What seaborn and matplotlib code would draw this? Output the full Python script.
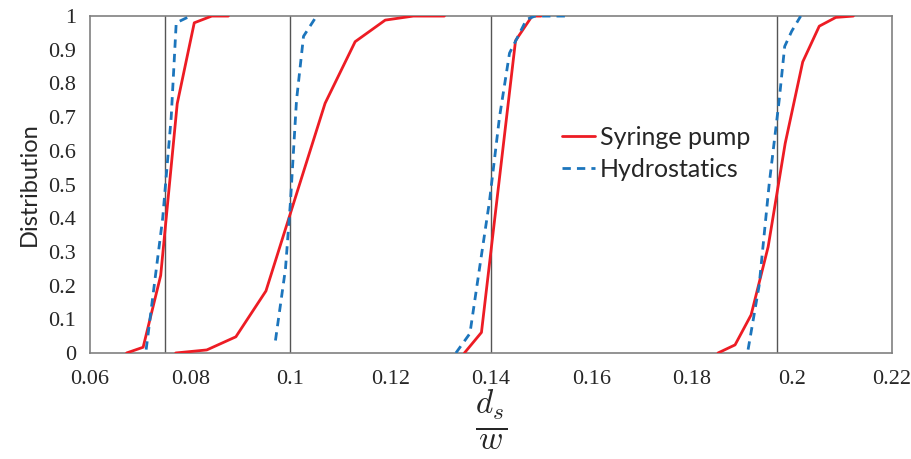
import numpy as np
import pandas as pd
import matplotlib
matplotlib.use("Agg")
import matplotlib.pyplot as plt
import seaborn as sns

# Cumulative distributions, four droplet sizes
pump_x = [
    [0.0673, 0.0706, 0.0741, 0.0774, 0.0808, 0.0843, 0.0876],
    [0.0771, 0.0833, 0.0891, 0.0951, 0.1069, 0.1129, 0.1189, 0.1245, 0.1307],
    [0.1347, 0.1381, 0.1449, 0.1482, 0.1500],
    [0.1853, 0.1887, 0.1919, 0.1953, 0.1987, 0.2022, 0.2055, 0.2088, 0.2123],
]
pump_y = [
    [0.0, 0.017, 0.23, 0.74, 0.98, 1.0, 1.0],
    [0.0, 0.009, 0.048, 0.184, 0.741, 0.924, 0.988, 1.0, 1.0],
    [0.0, 0.061, 0.927, 1.0, 1.0],
    [0.0, 0.024, 0.113, 0.315, 0.622, 0.864, 0.970, 0.996, 1.0],
]
hydro_x = [
    [0.0712, 0.0745, 0.0762, 0.0772, 0.0786, 0.0800],
    [0.0970, 0.0990, 0.1000, 0.1012, 0.1026, 0.1052],
    [0.1330, 0.1358, 0.1379, 0.1397, 0.1417, 0.1437, 0.1471, 0.1488, 0.1551],
    [0.1913, 0.1935, 0.1955, 0.1975, 0.1986, 0.2000, 0.2018],
]
hydro_y = [
    [0.01, 0.40, 0.70, 0.98, 0.99, 1.0],
    [0.037, 0.25, 0.45, 0.75, 0.94, 1.0],
    [0.0, 0.058, 0.27, 0.45, 0.70, 0.89, 0.99, 1.0, 1.0],
    [0.01, 0.20, 0.50, 0.75, 0.91, 0.955, 1.0],
]
target_sizes = [0.075, 0.1, 0.14, 0.197]
x_ticks = [0.06, 0.08, 0.1, 0.12, 0.14, 0.16, 0.18, 0.2, 0.22]
x_labels = ["0.06", "0.08", "0.1", "0.12", "0.14", "0.16", "0.18", "0.2", "0.22"]
y_ticks = [0, 0.1, 0.2, 0.3, 0.4, 0.5, 0.6, 0.7, 0.8, 0.9, 1]
y_labels = ["0", "0.1", "0.2", "0.3", "0.4", "0.5", "0.6", "0.7", "0.8", "0.9", "1"]

# Long table for seaborn
rows = []
for method, xs, ys in [("Syringe pump", pump_x, pump_y), ("Hydrostatics", hydro_x, hydro_y)]:
    for g, (gx, gy) in enumerate(zip(xs, ys)):
        for i, (a, b) in enumerate(zip(gx, gy)):
            rows.append({"x": a, "y": b, "method": method, "group": g, "order": i})
df = pd.DataFrame(rows)

sns.set_style("white")
plt.rcParams["mathtext.fontset"] = "cm"

fig = plt.figure(figsize=(9.12, 4.59), dpi=100)
ax = fig.add_axes([0.0987, 0.231, 0.8793, 0.734])

for xv in target_sizes:
    ax.axvline(xv, color="#555555", lw=1.0, zorder=1)

sns.lineplot(data=df, x="x", y="y", hue="method", style="method", units="group",
             estimator=None, sort=False, ax=ax,
             palette={"Syringe pump": "#ED1C24", "Hydrostatics": "#1C75BC"},
             dashes={"Syringe pump": "", "Hydrostatics": (3, 2.2)},
             linewidth=2, zorder=3)

ax.set_xlim(0.06, 0.22)
ax.set_ylim(0, 1)
ax.set_xticks(x_ticks)
ax.set_xticklabels(x_labels, fontfamily="Liberation Serif", fontsize=16)
ax.set_yticks(y_ticks)
ax.set_yticklabels(y_labels, fontfamily="Liberation Serif", fontsize=16)
ax.tick_params(axis="x", length=0, pad=12)
ax.tick_params(axis="y", length=0, pad=10)
for s in ax.spines.values():
    s.set_color("#808080")
    s.set_linewidth(1.2)

ax.set_ylabel("Distribution", fontfamily="Lato", fontsize=17, labelpad=6)
ax.set_xlabel(r"$\frac{d_s}{w}$", fontsize=34, labelpad=0)

handles, labels = ax.get_legend_handles_labels()
ax.legend(handles, labels, loc="upper left", bbox_to_anchor=(0.561, 0.74),
          frameon=False, prop={"family": "Lato", "size": 18},
          handlelength=1.3, handletextpad=0.2, labelspacing=0.35)

plt.savefig("out.png", dpi=100)
